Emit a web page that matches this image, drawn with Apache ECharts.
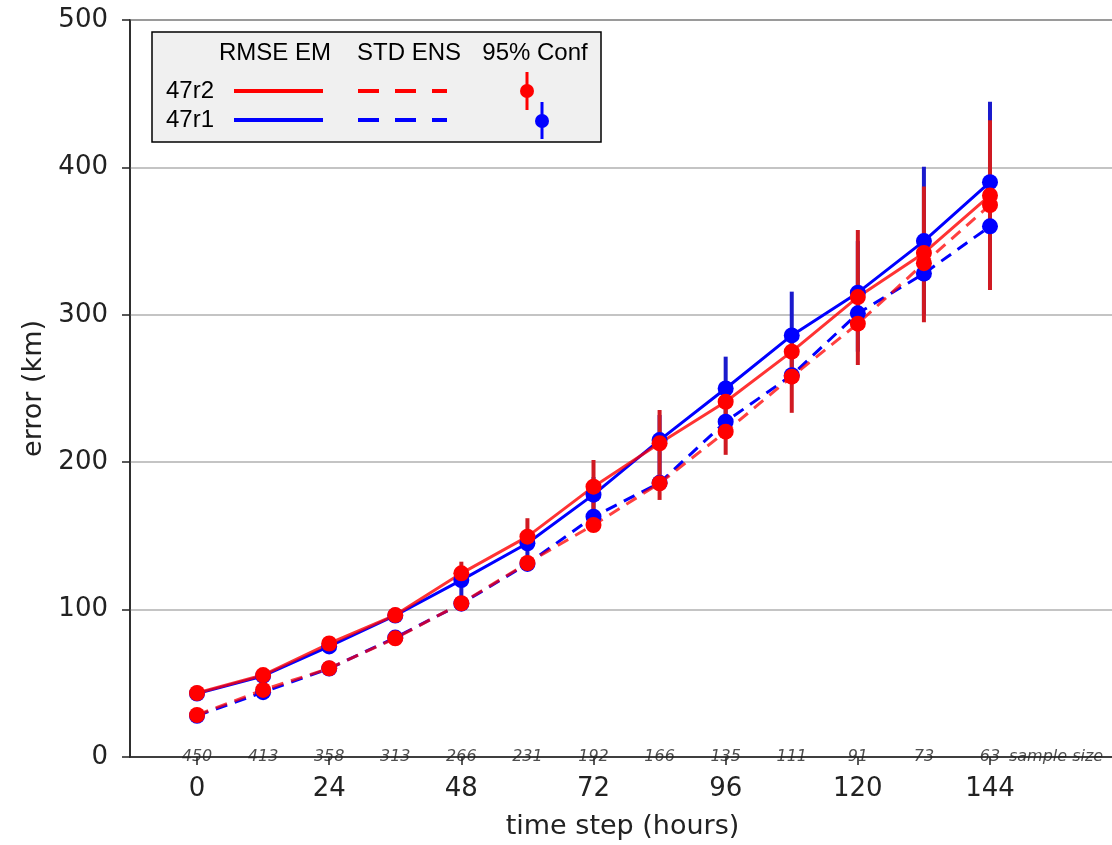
<!DOCTYPE html>
<html>
<head>
<meta charset="utf-8">
<script src="https://cdn.jsdelivr.net/npm/echarts@6/dist/echarts.min.js"></script>
<style>
html,body{margin:0;padding:0;background:#fff;overflow:hidden;}
#chart{width:1112px;height:845px;}
</style>
</head>
<body>
<div id="chart"></div>
<script>
// ---- data ----
const hours = [0, 12, 24, 36, 48, 60, 72, 84, 96, 108, 120, 132, 144];
const xTickLabels = [0, 24, 48, 72, 96, 120, 144];
const yTickLabels = [0, 100, 200, 300, 400, 500];
const sampleSizes = [450, 413, 358, 313, 266, 231, 192, 166, 135, 111, 91, 73, 63];
const sampleSizeTitle = 'sample size';

const r2Rmse = [43.4, 55.6, 77, 96.3, 124.6, 149.5, 183.4, 212.8, 241, 275, 312, 342, 381];
const r2Std  = [28.5, 45.5, 60.2, 80.5, 104.3, 131.6, 157.4, 185.7, 220.7, 258, 294, 335, 374.5];
const r1Rmse = [43, 55, 75, 96, 120, 145, 178, 215, 250, 286, 315, 350, 390];
const r1Std  = [28, 44, 60, 81, 104, 131, 163, 186, 227.5, 259, 301, 328, 360];

const r2CiLow  = [40, 52, 74, 93, 117, 140, 165, 174.4, 205, 233.5, 266, 295, 316.8];
const r2CiHigh = [46, 58, 80, 99, 132.5, 162, 201.5, 235.4, 248, 288, 357.5, 387, 432];
const r1CiLow  = [40, 52, 72, 93, 106, 131, 160, 190, 228, 255, 275, 300, 335];
const r1CiHigh = [46, 58, 78, 99, 128, 152, 190, 232, 271.6, 315.7, 350, 400.5, 444.6];

const expNames = ['47r2', '47r1'];
const colHeaders = ['RMSE EM', 'STD ENS', '95% Conf'];

// ---- styles ----
const RED = '#ff0000', BLUE = '#0000ff';
const RED_BAR = '#d01a22', BLUE_BAR = '#1a1acc';
const FONT = '"DejaVu Sans", sans-serif';
const LFONT = '"Liberation Sans", Arial, sans-serif';

const chart = echarts.init(document.getElementById('chart'), null, {renderer: 'canvas', width: 1112, height: 845});

function pairs(vals) { return hours.map((h, i) => [h, vals[i]]); }

function ciSeries(lo, hi, color) {
  return {
    type: 'custom',
    clip: false,
    z: 2,
    data: hours.map((h, i) => [h, lo[i], hi[i]]),
    encode: {x: 0, y: [1, 2]},
    renderItem: function (params, api) {
      const p1 = api.coord([api.value(0), api.value(1)]);
      const p2 = api.coord([api.value(0), api.value(2)]);
      return {type: 'line', shape: {x1: p1[0], y1: p1[1], x2: p2[0], y2: p2[1]},
        style: {stroke: color, lineWidth: 4}};
    }
  };
}

function lineSeries(vals, color, dashed, opacity) {
  return {
    type: 'line',
    z: 3,
    data: pairs(vals),
    symbol: 'circle',
    symbolSize: 16,
    showAllSymbol: true,
    itemStyle: {color: color, opacity: 1},
    lineStyle: {color: color, width: 3, type: dashed ? [12, 8] : 'solid', opacity: opacity},
    emphasis: {disabled: true}
  };
}

// legend graphic
const LF = '24px ' + LFONT;
const legend = [
  {type: 'rect', shape: {x: 152, y: 32, width: 449, height: 110},
    style: {fill: '#f0f0f0', stroke: '#000', lineWidth: 1.5}, z: 100},
  {type: 'text', x: 275, y: 53, style: {text: colHeaders[0], font: LF, fill: '#000', textAlign: 'center', textVerticalAlign: 'middle'}, z: 101},
  {type: 'text', x: 409, y: 53, style: {text: colHeaders[1], font: LF, fill: '#000', textAlign: 'center', textVerticalAlign: 'middle'}, z: 101},
  {type: 'text', x: 535, y: 53, style: {text: colHeaders[2], font: LF, fill: '#000', textAlign: 'center', textVerticalAlign: 'middle'}, z: 101},
  {type: 'text', x: 166, y: 91, style: {text: expNames[0], font: LF, fill: '#000', textAlign: 'left', textVerticalAlign: 'middle'}, z: 101},
  {type: 'text', x: 166, y: 120, style: {text: expNames[1], font: LF, fill: '#000', textAlign: 'left', textVerticalAlign: 'middle'}, z: 101},
  {type: 'line', shape: {x1: 234, y1: 91, x2: 323, y2: 91}, style: {stroke: RED, lineWidth: 4}, z: 101},
  {type: 'line', shape: {x1: 234, y1: 120, x2: 323, y2: 120}, style: {stroke: BLUE, lineWidth: 4}, z: 101},
  {type: 'line', shape: {x1: 358, y1: 91, x2: 447, y2: 91}, style: {stroke: RED, lineWidth: 4, lineDash: [21, 16]}, z: 101},
  {type: 'line', shape: {x1: 358, y1: 120, x2: 447, y2: 120}, style: {stroke: BLUE, lineWidth: 4, lineDash: [21, 16]}, z: 101},
  {type: 'line', shape: {x1: 527, y1: 72, x2: 527, y2: 110}, style: {stroke: RED, lineWidth: 3}, z: 101},
  {type: 'circle', shape: {cx: 527, cy: 91, r: 7}, style: {fill: RED}, z: 102},
  {type: 'line', shape: {x1: 542, y1: 102, x2: 542, y2: 139}, style: {stroke: BLUE, lineWidth: 3}, z: 101},
  {type: 'circle', shape: {cx: 542, cy: 121, r: 7}, style: {fill: BLUE}, z: 102}
];

const sampleData = hours.map((h, i) => [h, 0, String(sampleSizes[i])]);
sampleData.push([hours[hours.length - 1] + 12, 0, sampleSizeTitle]);

const option = {
  animation: false,
  backgroundColor: '#ffffff',
  grid: {left: 130, top: 20, right: -3, bottom: 88, show: true, borderColor: '#222', borderWidth: 1.5,
    backgroundColor: 'transparent', containLabel: false, outerBoundsMode: 'none'},
  xAxis: {
    type: 'value',
    min: -12.17,
    max: 166.7,
    name: 'time step (hours)',
    nameLocation: 'middle',
    nameGap: 56,
    nameTextStyle: {fontFamily: FONT, fontSize: 27, color: '#222'},
    axisLine: {show: true, onZero: false, lineStyle: {color: '#222', width: 1.5}},
    axisTick: {show: true, length: 8, customValues: xTickLabels, lineStyle: {color: '#222', width: 1.5}},
    axisLabel: {customValues: xTickLabels, fontFamily: FONT, fontSize: 26, color: '#222', margin: 19},
    splitLine: {show: false}
  },
  yAxis: {
    type: 'value',
    min: 0,
    max: 500,
    interval: 100,
    name: 'error (km)',
    nameLocation: 'middle',
    nameGap: 82,
    nameRotate: 90,
    nameTextStyle: {fontFamily: FONT, fontSize: 27, color: '#222'},
    axisLine: {show: true, onZero: false, lineStyle: {color: '#222', width: 1.5}},
    axisTick: {show: true, length: 8, lineStyle: {color: '#222', width: 1.5}},
    axisLabel: {fontFamily: FONT, fontSize: 26, color: '#222', margin: 22,
      formatter: function (v) { return yTickLabels.indexOf(v) >= 0 ? String(v) : ''; }},
    splitLine: {show: true, lineStyle: {color: '#b0b0b0', width: 1.5}}
  },
  series: [
    ciSeries(r1CiLow, r1CiHigh, BLUE_BAR),
    ciSeries(r2CiLow, r2CiHigh, RED_BAR),
    lineSeries(r1Std, BLUE, true, 1),
    lineSeries(r1Rmse, BLUE, false, 1),
    lineSeries(r2Std, RED, true, 0.75),
    lineSeries(r2Rmse, RED, false, 0.8),
    {
      type: 'scatter',
      z: 5,
      clip: false,
      symbolSize: 0,
      data: sampleData,
      label: {show: true, position: 'inside', formatter: function (p) { return p.value[2]; },
        fontFamily: FONT, fontStyle: 'italic', fontSize: 16, color: '#222'},
      emphasis: {disabled: true}
    }
  ],
  graphic: legend
};
chart.setOption(option);
</script>
</body>
</html>
